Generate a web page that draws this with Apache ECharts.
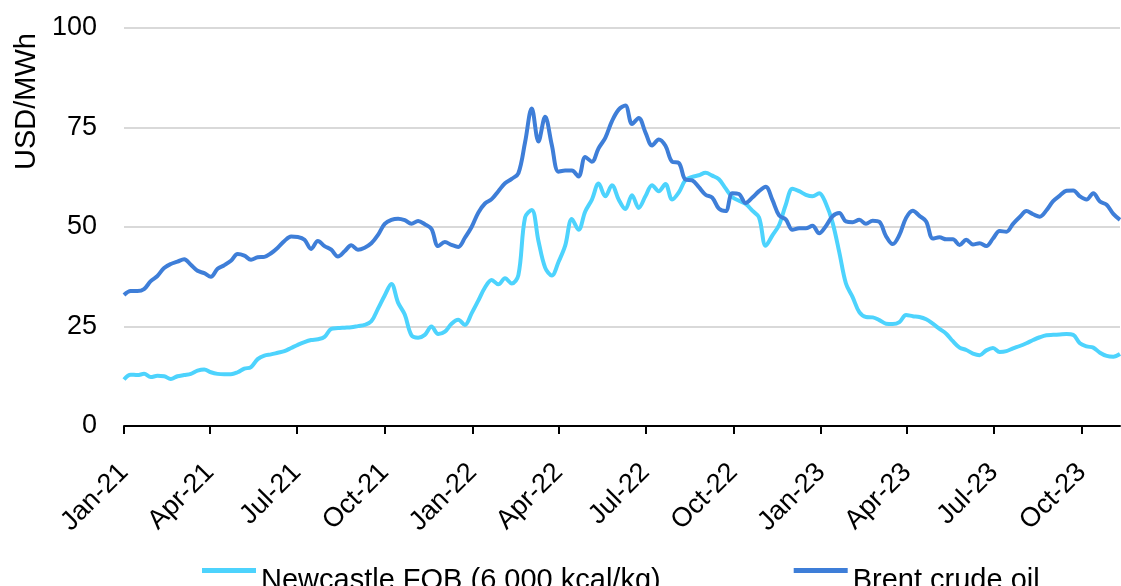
<!DOCTYPE html>
<html>
<head>
<meta charset="utf-8">
<script src="https://cdn.jsdelivr.net/npm/echarts@6/dist/echarts.min.js"></script>
<style>
html,body{margin:0;padding:0;background:#fff;}
#chart{width:1121px;height:586px;}
</style>
</head>
<body>
<div id="chart"></div>
<script>
// Weekly observation dates (Fridays)
const dates = [
'2021-01-01','2021-01-08','2021-01-15','2021-01-22','2021-01-29','2021-02-05','2021-02-12','2021-02-19','2021-02-26','2021-03-05',
'2021-03-12','2021-03-19','2021-03-26','2021-04-02','2021-04-09','2021-04-16','2021-04-23','2021-04-30','2021-05-07','2021-05-14',
'2021-05-21','2021-05-28','2021-06-04','2021-06-11','2021-06-18','2021-06-25','2021-07-02','2021-07-09','2021-07-16','2021-07-23',
'2021-07-30','2021-08-06','2021-08-13','2021-08-20','2021-08-27','2021-09-03','2021-09-10','2021-09-17','2021-09-24','2021-10-01',
'2021-10-08','2021-10-15','2021-10-22','2021-10-29','2021-11-05','2021-11-12','2021-11-19','2021-11-26','2021-12-03','2021-12-10',
'2021-12-17','2021-12-24','2021-12-31','2022-01-07','2022-01-14','2022-01-21','2022-01-28','2022-02-04','2022-02-11','2022-02-18',
'2022-02-25','2022-03-04','2022-03-11','2022-03-18','2022-03-25','2022-04-01','2022-04-08','2022-04-15','2022-04-22','2022-04-29',
'2022-05-06','2022-05-13','2022-05-20','2022-05-27','2022-06-03','2022-06-10','2022-06-17','2022-06-24','2022-07-01','2022-07-08',
'2022-07-15','2022-07-22','2022-07-29','2022-08-05','2022-08-12','2022-08-19','2022-08-26','2022-09-02','2022-09-09','2022-09-16',
'2022-09-23','2022-09-30','2022-10-07','2022-10-14','2022-10-21','2022-10-28','2022-11-04','2022-11-11','2022-11-18','2022-11-25',
'2022-12-02','2022-12-09','2022-12-16','2022-12-23','2022-12-30','2023-01-06','2023-01-13','2023-01-20','2023-01-27','2023-02-03',
'2023-02-10','2023-02-17','2023-02-24','2023-03-03','2023-03-10','2023-03-17','2023-03-24','2023-03-31','2023-04-07','2023-04-14',
'2023-04-21','2023-04-28','2023-05-05','2023-05-12','2023-05-19','2023-05-26','2023-06-02','2023-06-09','2023-06-16','2023-06-23',
'2023-06-30','2023-07-07','2023-07-14','2023-07-21','2023-07-28','2023-08-04','2023-08-11','2023-08-18','2023-08-25','2023-09-01',
'2023-09-08','2023-09-15','2023-09-22','2023-09-29','2023-10-06','2023-10-13','2023-10-20','2023-10-27','2023-11-03','2023-11-10'
];

const newcastle = [
11.7,12.9,12.8,13.1,12.3,12.6,12.5,11.8,12.5,12.8,
13.1,13.9,14.2,13.5,13.1,13.0,13.0,13.5,14.4,14.8,
16.8,17.7,18.0,18.4,18.8,19.6,20.4,21.1,21.6,21.8,
22.4,24.4,24.6,24.7,24.8,25.1,25.4,26.3,29.5,32.8,
35.7,31.0,28.0,22.8,22.2,22.9,25.0,23.1,23.7,25.7,
26.7,25.4,28.3,31.5,34.8,36.7,35.6,37.1,35.8,37.9,
52.4,54.3,46.5,39.8,37.8,41.2,45.3,52.0,49.3,53.9,
56.9,60.9,57.7,60.5,56.9,54.5,58.0,54.8,57.7,60.5,
59.0,60.8,56.9,58.7,61.8,62.6,63.0,63.6,62.9,62.0,
59.7,57.5,56.6,55.8,54.1,52.4,45.3,47.9,50.5,55.6,
59.6,59.0,58.1,57.7,58.5,55.9,51.1,43.7,35.8,32.4,
28.6,27.4,27.3,26.6,25.7,25.6,26.1,27.9,27.6,27.4,
26.8,25.7,24.4,23.2,21.3,19.7,19.1,18.2,17.8,19.0,
19.6,18.6,18.8,19.5,20.1,20.8,21.6,22.3,22.8,22.9,
23.0,23.1,22.9,20.8,20.0,19.7,18.4,17.6,17.4,18.1
];

const brent = [
32.9,33.9,33.9,34.4,36.4,37.7,39.7,40.7,41.3,41.9,
40.5,39.0,38.4,37.5,39.5,40.4,41.5,43.2,42.8,41.8,
42.4,42.5,43.4,44.8,46.5,47.6,47.5,46.8,44.5,46.5,
45.2,44.3,42.6,43.9,45.4,44.3,44.8,45.9,48.0,50.8,
51.8,52.1,51.7,50.8,51.5,50.7,49.5,45.2,46.2,45.5,
45.0,47.3,50.0,53.6,55.9,57.0,59.0,61.0,62.1,63.5,
71.3,79.8,71.5,77.7,70.6,63.9,64.2,64.2,62.7,67.6,
66.4,69.8,72.4,76.6,79.5,80.5,75.9,77.4,73.8,70.5,
72.0,70.4,66.4,66.1,61.9,61.7,60.0,58.1,57.4,54.6,
54.0,58.5,58.3,56.0,57.4,59.0,60.1,56.8,52.9,51.9,
49.3,49.7,49.7,50.3,48.4,50.2,52.7,53.5,51.4,51.2,
51.8,50.8,51.6,51.3,47.7,45.7,48.0,52.3,54.1,52.8,
51.4,47.1,47.4,46.9,46.9,45.5,46.8,45.6,45.9,45.2,
47.1,49.0,48.8,50.8,52.5,54.0,53.2,52.6,54.2,56.5,
57.9,59.1,59.2,57.7,56.9,58.5,56.4,55.6,53.3,51.8
];

const monthNames = ['Jan','Feb','Mar','Apr','May','Jun','Jul','Aug','Sep','Oct','Nov','Dec'];
const seriesNames = ['Newcastle FOB (6 000 kcal/kg)', 'Brent crude oil'];
const yTitle = 'USD/MWh';

function ts(s){ const p = s.split('-').map(Number); return new Date(p[0], p[1]-1, p[2]).getTime(); }
const DAY = 24*3600*1000;

const FONT = 'Liberation Sans, Arial, sans-serif';
const chart = echarts.init(document.getElementById('chart'), null, {renderer:'canvas'});
chart.setOption({
  animation: false,
  backgroundColor: '#ffffff',
  grid: { left: 124, right: 1, top: 28, bottom: 160, containLabel: false },
  legend: {
    left: 202, top: 546, padding: 0,
    itemGap: 133, itemWidth: 54, itemHeight: 5,
    icon: 'rect',
    formatter: '{t|{name}}',
    textStyle: {
      fontFamily: FONT, fontSize: 29, color: '#000',
      rich: { t: { fontFamily: FONT, fontSize: 29, color: '#000', lineHeight: 34, padding: [20, 0, 0, 0] } }
    },
    data: seriesNames
  },
  xAxis: {
    type: 'time',
    min: ts(dates[0]),
    max: ts(dates[dates.length-1]),
    minInterval: 89*DAY, maxInterval: 93*DAY,
    axisLine: { show: true, lineStyle: { color: '#000', width: 2 } },
    axisTick: { show: true, length: 8, lineStyle: { color: '#000', width: 2 } },
    axisLabel: {
      rotate: 45, margin: 42, hideOverlap: false,
      fontFamily: FONT, fontSize: 27, color: '#000', fontWeight: 'normal',
      formatter: function (v) {
        const d = new Date(v);
        return monthNames[d.getMonth()] + '-' + String(d.getFullYear()).slice(2);
      }
    },
    splitLine: { show: false }
  },
  yAxis: {
    type: 'value', min: 0, max: 100, interval: 25,
    axisLine: { show: false }, axisTick: { show: false },
    axisLabel: { fontFamily: FONT, fontSize: 27, color: '#000', margin: 27 },
    splitLine: { lineStyle: { color: '#d9d9d9', width: 2 } }
  },
  graphic: [{
    type: 'text', left: 12, top: 33, rotation: Math.PI/2,
    style: { text: yTitle, font: '29px ' + FONT, fill: '#000' }
  }],
  series: [
    { name: seriesNames[0], type: 'line', smooth: 0.35, showSymbol: false,
      lineStyle: { color: '#4dd3fd', width: 4 }, itemStyle: { color: '#4dd3fd' },
      data: dates.map((d, i) => [ts(d), newcastle[i]]) },
    { name: seriesNames[1], type: 'line', smooth: 0.35, showSymbol: false,
      lineStyle: { color: '#3e7ed8', width: 4 }, itemStyle: { color: '#3e7ed8' },
      data: dates.map((d, i) => [ts(d), brent[i]]) }
  ]
});
</script>
</body>
</html>
